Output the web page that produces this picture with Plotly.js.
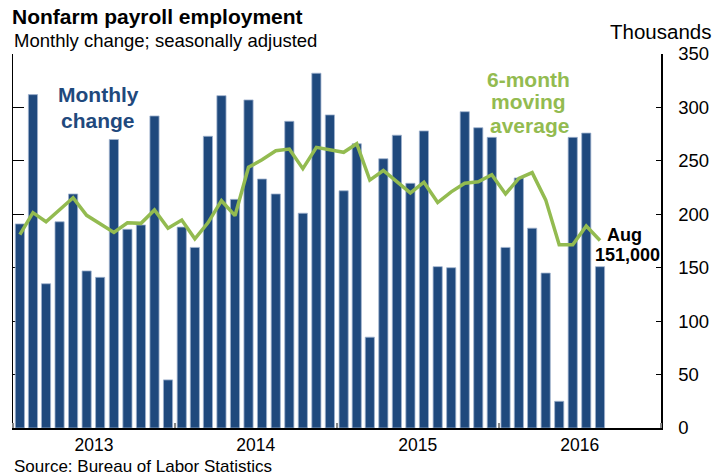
<!DOCTYPE html>
<html>
<head>
<meta charset="utf-8">
<script src="https://cdn.plot.ly/plotly-3.0.1.min.js"></script>
<style>html,body{margin:0;padding:0;background:#fff;}#chart{width:725px;height:476px;}</style>
</head>
<body>
<div id="chart"></div>
<script>
const months = [
  '2013-01','2013-02','2013-03','2013-04','2013-05','2013-06','2013-07','2013-08','2013-09','2013-10','2013-11','2013-12',
  '2014-01','2014-02','2014-03','2014-04','2014-05','2014-06','2014-07','2014-08','2014-09','2014-10','2014-11','2014-12',
  '2015-01','2015-02','2015-03','2015-04','2015-05','2015-06','2015-07','2015-08','2015-09','2015-10','2015-11','2015-12',
  '2016-01','2016-02','2016-03','2016-04','2016-05','2016-06','2016-07','2016-08'
];
const monthlyChange = [
  191, 312, 135, 193, 219, 147, 141, 270, 186, 190, 292, 45,
  188, 169, 273, 311, 214, 307, 233, 219, 287, 201, 332, 293,
  222, 266, 85, 252, 274, 229, 278, 151, 150, 296, 281, 272,
  169, 234, 187, 145, 25, 272, 276, 151
];
const movingAverage = [
  181, 201.5, 193, 204, 215.5, 199, 191.5, 183, 192, 191.5, 204, 187,
  194.6, 177, 192, 212.7, 198.7, 244, 251, 259.5, 261, 242.7, 262.6, 260,
  258, 266, 232, 241, 230.5, 220, 230, 211, 221, 229, 230.5, 237,
  219, 233.6, 239, 213.5, 171.5, 171.5, 189, 175.5
];
const yTicks = [0, 50, 100, 150, 200, 250, 300, 350];

const BLUE = '#1F497D';
const GREEN = '#93BB50';
const FONT = 'Liberation Sans, Arial, sans-serif';

// pixel helpers for paper coordinates (plot area 13..661 x, 54..428 y)
const L = 13, R = 661, T = 54, B = 428;
const px = v => (v - L) / (R - L);
const py = v => (B - v) / (B - T);

const traces = [
  {
    type: 'bar',
    x: months,
    y: monthlyChange,
    xperiod: 'M1',
    xperiodalignment: 'middle',
    marker: {color: BLUE, line: {color: '#9FB3CE', width: 0.8}},
    hoverinfo: 'x+y'
  },
  {
    type: 'scatter',
    mode: 'lines',
    x: months,
    y: movingAverage,
    xperiod: 'M1',
    xperiodalignment: 'middle',
    line: {color: GREEN, width: 3.5},
    hoverinfo: 'x+y'
  }
];

const ann = (text, x, y, size, color, bold, xanchor) => ({
  text: bold ? '<b>' + text + '</b>' : text,
  xref: 'paper', yref: 'paper',
  x: px(x), y: py(y),
  xanchor: xanchor || 'center', yanchor: 'middle',
  showarrow: false,
  font: {family: FONT, size: size, color: color}
});

const layout = {
  width: 725, height: 476,
  margin: {l: L, r: 725 - R, t: T, b: 476 - B, pad: 0},
  paper_bgcolor: '#fff', plot_bgcolor: '#fff',
  showlegend: false,
  bargap: 0.3,
  font: {family: FONT, size: 18, color: '#000'},
  title: {
    text: '<b>Nonfarm payroll employment</b>',
    xref: 'container', yref: 'container',
    x: 12 / 725, xanchor: 'left',
    y: 1 - 17 / 476, yanchor: 'middle',
    font: {family: FONT, size: 21, color: '#000'}
  },
  xaxis: {
    type: 'date',
    range: ['2013-01-01', '2017-01-01'],
    tick0: '2013-01-01',
    dtick: 'M12',
    tickformat: '%Y',
    ticklabelmode: 'period',
    ticks: 'inside', ticklen: 5, tickwidth: 2, tickcolor: '#888',
    showline: true, linecolor: '#000', linewidth: 1.5,
    showgrid: false, zeroline: false,
    ticklabelstandoff: 0,
    tickfont: {family: FONT, size: 17.5, color: '#000'},
    fixedrange: true
  },
  yaxis: {
    side: 'right',
    range: [0, 350],
    tickvals: yTicks,
    ticktext: yTicks.map(String),
    ticks: 'inside', ticklen: 5, tickcolor: '#000',
    showline: true, linecolor: '#000', linewidth: 1.5,
    showgrid: false, zeroline: false,
    ticklabelstandoff: 12,
    tickfont: {family: FONT, size: 18.5, color: '#000'},
    fixedrange: true
  },
  yaxis2: {
    overlaying: 'y', side: 'left',
    range: [0, 350],
    tickvals: yTicks,
    showticklabels: false,
    ticks: 'inside', ticklen: 11, tickcolor: '#000',
    showline: true, linecolor: '#000', linewidth: 1.5,
    showgrid: false, zeroline: false,
    layer: 'below traces',
    fixedrange: true
  },
  annotations: [
    ann('Monthly change; seasonally adjusted', 12, 40, 18.5, '#000', false, 'left'),
    ann('Thousands', 713, 32, 20.5, '#000', false, 'right'),
    ann('Source: Bureau of Labor Statistics', 12, 466.5, 17, '#000', false, 'left'),
    ann('Monthly', 98, 94, 21, BLUE, true),
    ann('change', 98, 120, 21, BLUE, true),
    ann('6-month', 528, 79, 21, GREEN, true),
    ann('moving', 528, 102, 21, GREEN, true),
    ann('average', 529, 125, 21, GREEN, true),
    ann('Aug', 624, 235, 18, '#000', true),
    ann('151,000', 627, 255, 18, '#000', true)
  ]
};

// invisible trace so that the left axis (yaxis2) is drawn
traces.push({type: 'scatter', x: [months[0]], y: [0], yaxis: 'y2', mode: 'markers', marker: {opacity: 0}, hoverinfo: 'skip', xperiod: 'M1', xperiodalignment: 'middle'});

Plotly.newPlot('chart', traces, layout, {displayModeBar: false, staticPlot: true});
</script>
</body>
</html>
